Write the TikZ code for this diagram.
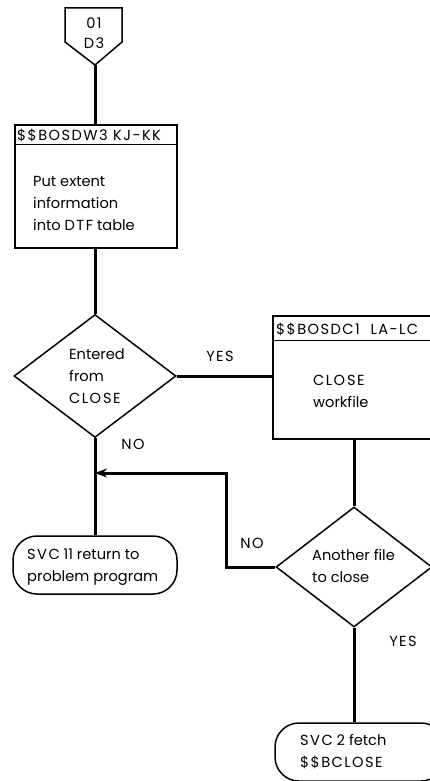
\documentclass[tikz,border=0pt]{standalone}
\usepackage{fontspec}
\setmainfont{Poppins}
\newfontfamily\spacedcaps[LetterSpace=10]{Poppins}
\usetikzlibrary{shapes.geometric,arrows.meta}
\newcommand\closeword{{\spacedcaps CLO\kern2pt SE}}
\begin{document}
\begin{tikzpicture}[x=1pt,y=-1pt,
  txt/.style={font=\fontsize{14.6}{22}\selectfont, inner sep=0pt},
  captxt/.style={font=\fontsize{14.6}{22}\selectfont\spacedcaps, inner sep=0pt},
  blk/.style={draw, line width=1.5pt, rectangle, inner sep=0pt},
  dec/.style={draw, line width=1.5pt, diamond, inner sep=0pt},
  term/.style={draw, line width=1.5pt, rectangle, rounded corners=24pt, inner sep=0pt},
  flow/.style={line width=3pt}]
\useasboundingbox (0,0) rectangle (430,781);
\clip (0,0) rectangle (430,781);

% off-page connector
\draw[line width=1.5pt, line join=miter] (65,8) -- (122,8) -- (122,42) -- (95,65) -- (65,42) -- cycle;
\coordinate (ctip) at (95,65);
\node[captxt] (c1) at (94,23) {01};
\node[captxt] (c2) at (94,43) {D3};

% process box: extent information
\node[blk, minimum width=162pt, minimum height=123pt] (b1) at (96,186.5) {};
\draw[line width=1.5pt] ([yshift=-20pt]b1.north west) -- ([yshift=-20pt]b1.north east);
\node[captxt, anchor=west] (b1h) at (17,135.5) {\$\$BOSDW3 KJ-KK};
\node[txt, anchor=north west, align=left] (b1t) at (33,176) {Put extent\\information\\into {\spacedcaps DTF} table};

% decision: entered from CLOSE
\node[dec, minimum width=162pt, minimum height=123pt] (d1) at (95,376) {};
\node[txt, anchor=west, align=left] (d1t) at (69,376) {Entered\\from\\\closeword};

% process box: close workfile
\node[blk, minimum width=177pt, minimum height=123pt] (b2) at (361.5,377.5) {};
\draw[line width=1.5pt] ([yshift=-25pt]b2.north west) -- ([yshift=-25pt]b2.north east);
\node[captxt, anchor=west] (b2h) at (276,329) {\$\$BOSDC1\ \ LA-LC};
\node[txt, anchor=west, align=left] (b2t) at (313,391.5) {\closeword\\workfile};

% terminal: return
\node[term, minimum width=164pt, minimum height=58pt] (t1) at (95,565) {};
\node[txt, anchor=west, align=left] (t1t) at (27,567.5) {{\spacedcaps SVC} 11 return to\\problem program};

% decision: another file
\node[dec, minimum width=156pt, minimum height=120pt] (d2) at (354,567) {};
\node[txt, anchor=west, align=left] (d2t) at (312,565.5) {Another file\\to close};

% terminal: fetch
\node[term, minimum width=170pt, minimum height=58pt] (t2) at (360,752) {};
\node[txt, anchor=west, align=left] (t2t) at (300,752) {{\spacedcaps SVC} 2 fetch\\{\spacedcaps \$\$BCLOSE}};

% connectors
\draw[flow] (ctip) -- (ctip |- b1.north);
\draw[flow] (d1.north |- b1.south) -- (d1.north);
\draw[flow] (d1.east) -- (d1.east -| b2.west);
\draw[flow] (d1.south) -- (d1.south |- t1.north);
\draw[flow] (d2.north |- b2.south) -- (d2.north);
\draw[flow] (d2.south) -- (d2.south |- t2.north);
\coordinate (bend) at (226,473);
\draw[flow, -{Stealth[length=12pt,width=9pt]}] (d2.west) -- (bend |- d2.west) -- (bend) -- (d1.south |- bend);

% branch labels
\node[captxt] (yes1) at (220,356) {YES};
\node[captxt] (no1) at (133,444) {NO};
\node[captxt] (no2) at (252,543) {NO};
\node[captxt] (yes2) at (403,641) {YES};
\end{tikzpicture}
\end{document}
